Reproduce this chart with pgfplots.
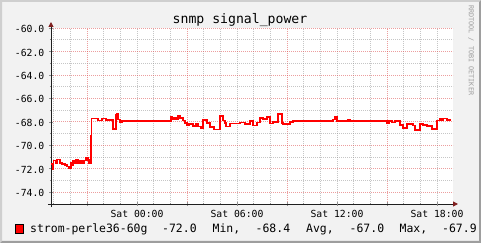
\documentclass[border=0pt]{standalone}
\usepackage{fontspec}
\setmainfont{DejaVu Sans Mono}
\usepackage{pgfplots}
\pgfplotsset{compat=1.18}
\usetikzlibrary{arrows.meta}
\definecolor{rrdback}{rgb}{0.95,0.95,0.95}
\definecolor{shadea}{rgb}{0.81,0.81,0.81}
\definecolor{shadeb}{rgb}{0.62,0.62,0.62}
\definecolor{rrdgrid}{rgb}{0.56,0.56,0.56}
\definecolor{rrdmgrid}{rgb}{0.87,0.31,0.31}
\definecolor{rrdarrow}{rgb}{0.5,0.12,0.12}
\definecolor{rrdaxis}{rgb}{0.12,0.12,0.12}
\begin{document}
\begin{tikzpicture}
\path[use as bounding box, fill=rrdback] (0bp,0bp) rectangle (481bp,243bp);
\fill[shadea] (0bp,0bp) -- (0bp,243bp) -- (481bp,243bp) -- (479bp,241bp) -- (2bp,241bp) -- (2bp,2bp) -- cycle;
\fill[shadeb] (0bp,0bp) -- (481bp,0bp) -- (481bp,243bp) -- (479bp,241bp) -- (479bp,2bp) -- (2bp,2bp) -- cycle;
\begin{axis}[
  at={(51bp,39bp)}, anchor=south west,
  scale only axis, width=402bp, height=176bp,
  xmin=-5.16, xmax=18.96, ymin=-75, ymax=-60,
  axis background/.style={fill=white},
  axis lines=left,
  axis line style={rrdaxis, line width=1bp},
  x axis line style={-{Triangle[length=5bp,width=5bp,color=rrdarrow]}, shorten >=-5bp, shorten <=-3bp},
  y axis line style={-{Triangle[length=5bp,width=5bp,color=rrdarrow]}, shorten >=-6bp, shorten <=-3bp},
  xtick={-3,3,9,15}, xticklabels={,,,},
  minor xtick={-5,-4,-2,-1,0,1,2,4,5,6,7,8,10,11,12,13,14,16,17,18},
  extra x ticks={0,6,12,18},
  extra x tick labels={Sat 00:00,Sat 06:00,Sat 12:00,Sat 18:00},
  extra x tick style={grid=none},
  ytick={-74,-72,-70,-68,-66,-64,-62,-60},
  yticklabels={-74.0,-72.0,-70.0,-68.0,-66.0,-64.0,-62.0,-60.0},
  minor ytick={-75,-73,-71,-69,-67,-65,-63,-61},
  grid=both,
  major grid style={rrdmgrid, opacity=0.55, line width=0.8bp, dash pattern=on 1bp off 1bp},
  minor grid style={rrdgrid, opacity=0.5, line width=0.8bp, dash pattern=on 1bp off 1bp},
  major tick length=3bp, minor tick length=2bp, tick align=center,
  tick style={rrdgrid, line width=0.7bp},
  xticklabel style={font=\fontsize{9.8}{10}\selectfont, anchor=base, inner sep=0pt, yshift=-11.7bp},
  yticklabel style={font=\fontsize{9.8}{10}\selectfont, anchor=east, inner sep=0pt, xshift=-5bp, yshift=-1bp},
]
\addplot[const plot, color=red, line width=1.6bp] table {
x y
-5.16 -71.6
-5.07 -72.0
-5.01 -71.3
-4.86 -71.5
-4.80 -71.2
-4.62 -71.5
-4.50 -71.6
-4.32 -71.7
-4.20 -71.8
-4.08 -71.95
-3.96 -71.5
-3.90 -71.7
-3.84 -71.3
-3.72 -71.5
-3.66 -71.25
-3.54 -71.5
-3.42 -71.35
-3.30 -71.5
-3.18 -71.3
-3.06 -71.1
-2.94 -71.25
-2.88 -71.5
-2.76 -69.2
-2.72 -67.7
-2.34 -67.9
-2.10 -67.7
-1.86 -67.85
-1.44 -68.6
-1.26 -67.4
-1.20 -67.3
-1.14 -67.8
-1.02 -68.0
-0.90 -67.95
-0.06 -67.88
0.00 -67.95
2.04 -67.6
2.10 -67.8
2.22 -67.65
2.34 -67.8
2.46 -67.5
2.58 -67.65
2.76 -67.9
2.88 -68.1
3.00 -68.3
3.12 -68.2
3.36 -68.35
3.54 -68.2
3.66 -68.4
3.84 -68.55
3.96 -67.85
4.20 -68.1
4.38 -68.45
4.62 -68.65
4.98 -67.5
5.16 -67.9
5.28 -68.1
5.34 -68.4
5.58 -68.15
6.18 -68.05
6.48 -68.2
6.78 -67.95
6.96 -68.3
7.20 -68.05
7.38 -67.65
7.56 -67.75
7.80 -67.6
7.98 -68.15
8.16 -68.0
8.46 -67.35
8.70 -68.1
8.76 -68.2
9.18 -68.0
9.36 -67.93
11.16 -67.88
11.22 -67.93
11.76 -67.8
11.88 -67.6
12.00 -67.93
12.66 -67.85
12.78 -67.93
15.00 -68.1
15.12 -67.93
15.30 -68.05
15.48 -67.95
15.78 -68.25
15.96 -68.5
16.20 -68.2
16.38 -68.2
16.56 -68.3
16.68 -68.7
16.98 -68.2
17.16 -68.25
17.40 -68.35
17.70 -68.6
18.00 -67.9
18.18 -67.7
18.30 -67.9
18.36 -67.7
18.60 -67.85
18.84 -67.85
};
\end{axis}
\node[anchor=base, inner sep=0pt, font=\fontsize{13.2}{14}\selectfont] at (240bp,219bp) {snmp signal\_power};
\node[anchor=west, inner sep=0pt, rotate=-90, text=black!38, font=\fontsize{6.8bp}{7bp}\selectfont] at (471bp,238bp) {\resizebox{90bp}{!}{RRDTOOL / TOBI OETIKER}};
\fill[red, draw=black, line width=0.8bp] (15.4bp,9.7bp) rectangle (23bp,18.3bp);
\begin{scope}[every node/.style={anchor=base west, inner sep=0pt, font=\fontsize{11.5}{12}\selectfont}]
\node at (30bp,10.7bp) {strom-perle36-60g};
\node at (162bp,10.7bp) {-72.0};
\node at (212.5bp,10.7bp) {Min,};
\node at (255.5bp,10.7bp) {-68.4};
\node at (306bp,10.7bp) {Avg,};
\node at (349.5bp,10.7bp) {-67.0};
\node at (399.5bp,10.7bp) {Max,};
\node at (442bp,10.7bp) {-67.9};
\end{scope}
\end{tikzpicture}
\end{document}
